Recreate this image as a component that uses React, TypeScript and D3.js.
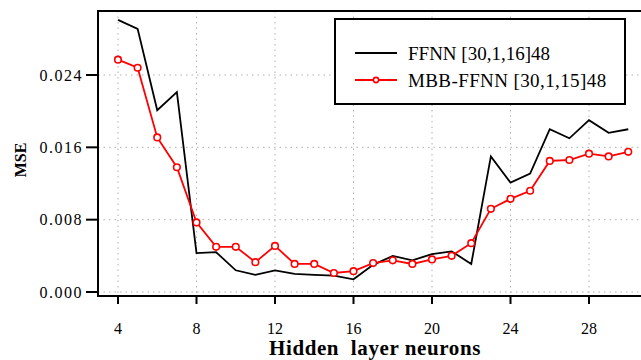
import React from "react";
import * as d3 from "d3";

const neurons = d3.range(4, 31);
const ffnn = [0.0301, 0.0291, 0.0201, 0.0221, 0.0043, 0.0044, 0.0024, 0.0019, 0.0024, 0.002, 0.0019, 0.0018, 0.0014, 0.003, 0.004, 0.0035, 0.0042, 0.0045, 0.0031, 0.015, 0.0121, 0.0131, 0.018, 0.017, 0.019, 0.0176, 0.018];
const mbb = [0.0257, 0.0248, 0.0171, 0.0138, 0.0077, 0.005, 0.005, 0.0033, 0.0051, 0.0031, 0.0031, 0.0021, 0.0023, 0.0032, 0.0035, 0.0031, 0.0036, 0.004, 0.0054, 0.0092, 0.0103, 0.0112, 0.0145, 0.0146, 0.0153, 0.015, 0.0155];
const xTicks = [4, 8, 12, 16, 20, 24, 28];
const yTicks = [0, 0.008, 0.016, 0.024];
const seriesNames = ["FFNN [30,1,16]48", "MBB-FFNN [30,1,15]48"];

export default function App() {
  const W = 641, H = 360;
  const x = d3.scaleLinear().domain([4, 28]).range([118, 589]);
  const y = d3.scaleLinear().domain([0, 0.024]).range([292, 75]);
  const left = 98, top = 11, bottom = 296, right = 660;
  const line = d3.line<number>().x((_, i) => x(neurons[i])).y((d) => y(d));
  const font = "'Liberation Serif', 'Times New Roman', serif";
  return (
    <svg width={W} height={H} style={{ position: "absolute", left: 0, top: 0, background: "#fff", fontFamily: font }}>
      {xTicks.map((t) => (
        <line key={"gx" + t} x1={x(t)} x2={x(t)} y1={top} y2={bottom} stroke="#b0b0b0" strokeWidth={1} strokeDasharray="1.5,4" />
      ))}
      {yTicks.map((t) => (
        <line key={"gy" + t} x1={left} x2={right} y1={y(t)} y2={y(t)} stroke="#b0b0b0" strokeWidth={1} strokeDasharray="1.5,4" />
      ))}
      <path d={line(ffnn) || ""} fill="none" stroke="#000" strokeWidth={1.8} />
      <path d={line(mbb) || ""} fill="none" stroke="#ff0000" strokeWidth={1.8} />
      {mbb.map((v, i) => (
        <circle key={i} cx={x(neurons[i])} cy={y(v)} r={3.3} fill="#fff" stroke="#ff0000" strokeWidth={1.6} />
      ))}
      <rect x={left} y={top} width={right - left} height={bottom - top} fill="none" stroke="#000" strokeWidth={2} />
      {yTicks.map((t) => (
        <g key={"ty" + t}>
          <line x1={left - 12} x2={left} y1={y(t)} y2={y(t)} stroke="#000" strokeWidth={2} />
          <text x={83} y={y(t)} dy="0.35em" textAnchor="end" fontSize={16} letterSpacing={1.5}>{d3.format(".3f")(t)}</text>
        </g>
      ))}
      {xTicks.map((t) => (
        <g key={"tx" + t}>
          <line x1={x(t)} x2={x(t)} y1={bottom} y2={bottom + 8} stroke="#000" strokeWidth={2} />
          <text x={x(t)} y={334} textAnchor="middle" fontSize={16}>{t}</text>
        </g>
      ))}
      <text x={375} y={355} textAnchor="middle" fontSize={21} fontWeight="bold" letterSpacing={0.6} style={{ whiteSpace: "pre" }}>{"Hidden  layer neurons"}</text>
      <text transform="translate(26,160) rotate(-90)" textAnchor="middle" fontSize={16} fontWeight="bold">MSE</text>
      <rect x={335} y={19} width={290} height={85} fill="#fff" stroke="#000" strokeWidth={2} />
      <line x1={355} x2={397} y1={53} y2={53} stroke="#000" strokeWidth={1.8} />
      <line x1={355} x2={397} y1={80} y2={80} stroke="#ff0000" strokeWidth={1.8} />
      <circle cx={376} cy={80} r={2.6} fill="#fff" stroke="#ff0000" strokeWidth={1.6} />
      <text x={408} y={53} dy="0.35em" fontSize={19}>{seriesNames[0]}</text>
      <text x={408} y={80} dy="0.35em" fontSize={19} letterSpacing={0.4}>{seriesNames[1]}</text>
    </svg>
  );
}
